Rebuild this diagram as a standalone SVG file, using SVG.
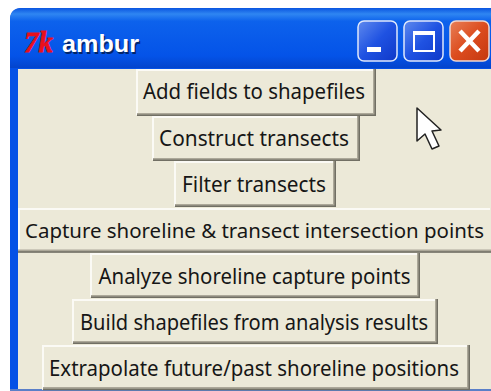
<svg xmlns="http://www.w3.org/2000/svg" width="491" height="391" viewBox="0 0 491 391">
<style>
.b{fill:#ece9d8}
.hl{fill:none;stroke:#fbfaf5;stroke-width:2}
.sh{fill:none;stroke:#aca899;stroke-width:3}
.sd{fill:none;stroke:#716f64;stroke-width:1.500}
.t{font-family:"Noto Sans","DejaVu Sans",sans-serif;font-size:22px;fill:#161616;text-anchor:middle}
.n{font-family:"Liberation Sans",sans-serif;font-weight:700;font-size:23px}
.wb{fill:url(#btn);stroke:#dfe8fb;stroke-width:1.500}
</style>
<defs>
<linearGradient id="tb" x1="0" y1="0" x2="0" y2="1">
<stop offset="0" stop-color="#0a55e0"/><stop offset=".1" stop-color="#2f86f2"/><stop offset=".22" stop-color="#0d62ec"/><stop offset=".8" stop-color="#0453e8"/><stop offset="1" stop-color="#0344cc"/>
</linearGradient>
<linearGradient id="btn" x1="0" y1="0" x2="1" y2="1">
<stop offset="0" stop-color="#5f8aee"/><stop offset=".5" stop-color="#1f52e2"/><stop offset="1" stop-color="#0f38c8"/>
</linearGradient>
<linearGradient id="cl" x1="0" y1="0" x2="1" y2="1">
<stop offset="0" stop-color="#e88058"/><stop offset=".5" stop-color="#dc4c1e"/><stop offset="1" stop-color="#c43810"/>
</linearGradient>
</defs>
<rect width="491" height="391" fill="#fff"/>
<path d="M10 391V20Q10 8 22 8H491V391Z" fill="#0451e6"/>
<path d="M10 68V20Q10 8 22 8H491V68Z" fill="url(#tb)"/>
<rect x="18" y="69" width="473" height="320" class="b"/>
<rect x="10" y="389" width="481" height="2" fill="#5a7fc8"/>
<g id="title">
<text x="24" y="52" font-family="Liberation Serif,serif" font-style="italic" font-weight="700" font-size="30" fill="#e8101c" stroke="#e8101c" stroke-width=".8" textLength="29" lengthAdjust="spacingAndGlyphs">7k</text>
<text x="63.500" y="53.500" class="n" fill="#000" opacity=".55" textLength="77" lengthAdjust="spacingAndGlyphs">ambur</text>
<text x="62" y="52" class="n" fill="#fff" textLength="77" lengthAdjust="spacingAndGlyphs">ambur</text>
</g>
<g id="window-buttons">
<rect x="358" y="21" width="39" height="40" rx="6" class="wb"/>
<rect x="367" y="47" width="14" height="5" fill="#fff"/>
<rect x="404" y="21" width="39" height="40" rx="6" class="wb"/>
<rect x="414" y="32" width="20" height="19" fill="none" stroke="#fff" stroke-width="2"/>
<rect x="414" y="31" width="20" height="4" fill="#fff"/>
<rect x="450" y="21" width="39" height="40" rx="6" fill="url(#cl)" stroke="#f0d8d0" stroke-width="1.500"/>
<path d="M460 31L479 51M479 31L460 51" stroke="#fff" stroke-width="4.500" fill="none"/>
</g>
<g id="cursor">
<path d="M417 108V141L425 134L432 149L439 146L432 131L441 130Z" fill="#fff" stroke="#222" stroke-width="1.500" stroke-linejoin="round"/>
</g>
<g id="btn-add">
<rect x="136" y="69" width="240" height="47" class="b"/>
<path class="hl" d="M137 115V70H375"/><path class="sh" d="M137 114.500H374.500V69"/><path class="sd" d="M137 115.250H375.250V69"/>
<text class="t" x="254" y="99" textLength="222" lengthAdjust="spacingAndGlyphs">Add fields to shapefiles</text>
</g>
<g id="btn-construct">
<rect x="152" y="116" width="208" height="45" class="b"/>
<path class="hl" d="M153 160V117H359"/><path class="sh" d="M153 159.500H358.500V116"/><path class="sd" d="M153 160.250H359.250V116"/>
<text class="t" x="254" y="146" textLength="190" lengthAdjust="spacingAndGlyphs">Construct transects</text>
</g>
<g id="btn-filter">
<rect x="174" y="161" width="162" height="46" class="b"/>
<path class="hl" d="M175 206V162H335"/><path class="sh" d="M175 205.500H334.500V161"/><path class="sd" d="M175 206.250H335.250V161"/>
<text class="t" x="254" y="192" textLength="144" lengthAdjust="spacingAndGlyphs">Filter transects</text>
</g>
<g id="btn-capture">
<rect x="18" y="208" width="473" height="44" class="b"/>
<path class="hl" d="M19 251V209H490"/><path class="sh" d="M18 251H491"/><path class="sd" d="M18 252H491"/>
<text class="t" x="254.500" y="238" style="font-size:20.5px" textLength="459" lengthAdjust="spacingAndGlyphs">Capture shoreline &amp; transect intersection points</text>
</g>
<g id="btn-analyze">
<rect x="90" y="253" width="330" height="45" class="b"/>
<path class="hl" d="M91 297V254H419"/><path class="sh" d="M91 296.500H418.500V253"/><path class="sd" d="M91 297.250H419.250V253"/>
<text class="t" x="254.500" y="284" textLength="312" lengthAdjust="spacingAndGlyphs">Analyze shoreline capture points</text>
</g>
<g id="btn-build">
<rect x="72" y="299" width="366" height="45" class="b"/>
<path class="hl" d="M73 343V300H437"/><path class="sh" d="M73 342.500H436.500V299"/><path class="sd" d="M73 343.250H437.250V299"/>
<text class="t" x="254" y="330" textLength="348" lengthAdjust="spacingAndGlyphs">Build shapefiles from analysis results</text>
</g>
<g id="btn-extrapolate">
<rect x="42" y="345" width="428" height="45" class="b"/>
<path class="hl" d="M43 389V346H469"/><path class="sh" d="M43 388.500H468.500V345"/><path class="sd" d="M43 389.500H469.250V345"/>
<text class="t" x="254" y="376" textLength="410" lengthAdjust="spacingAndGlyphs">Extrapolate future/past shoreline positions</text>
</g>
</svg>
